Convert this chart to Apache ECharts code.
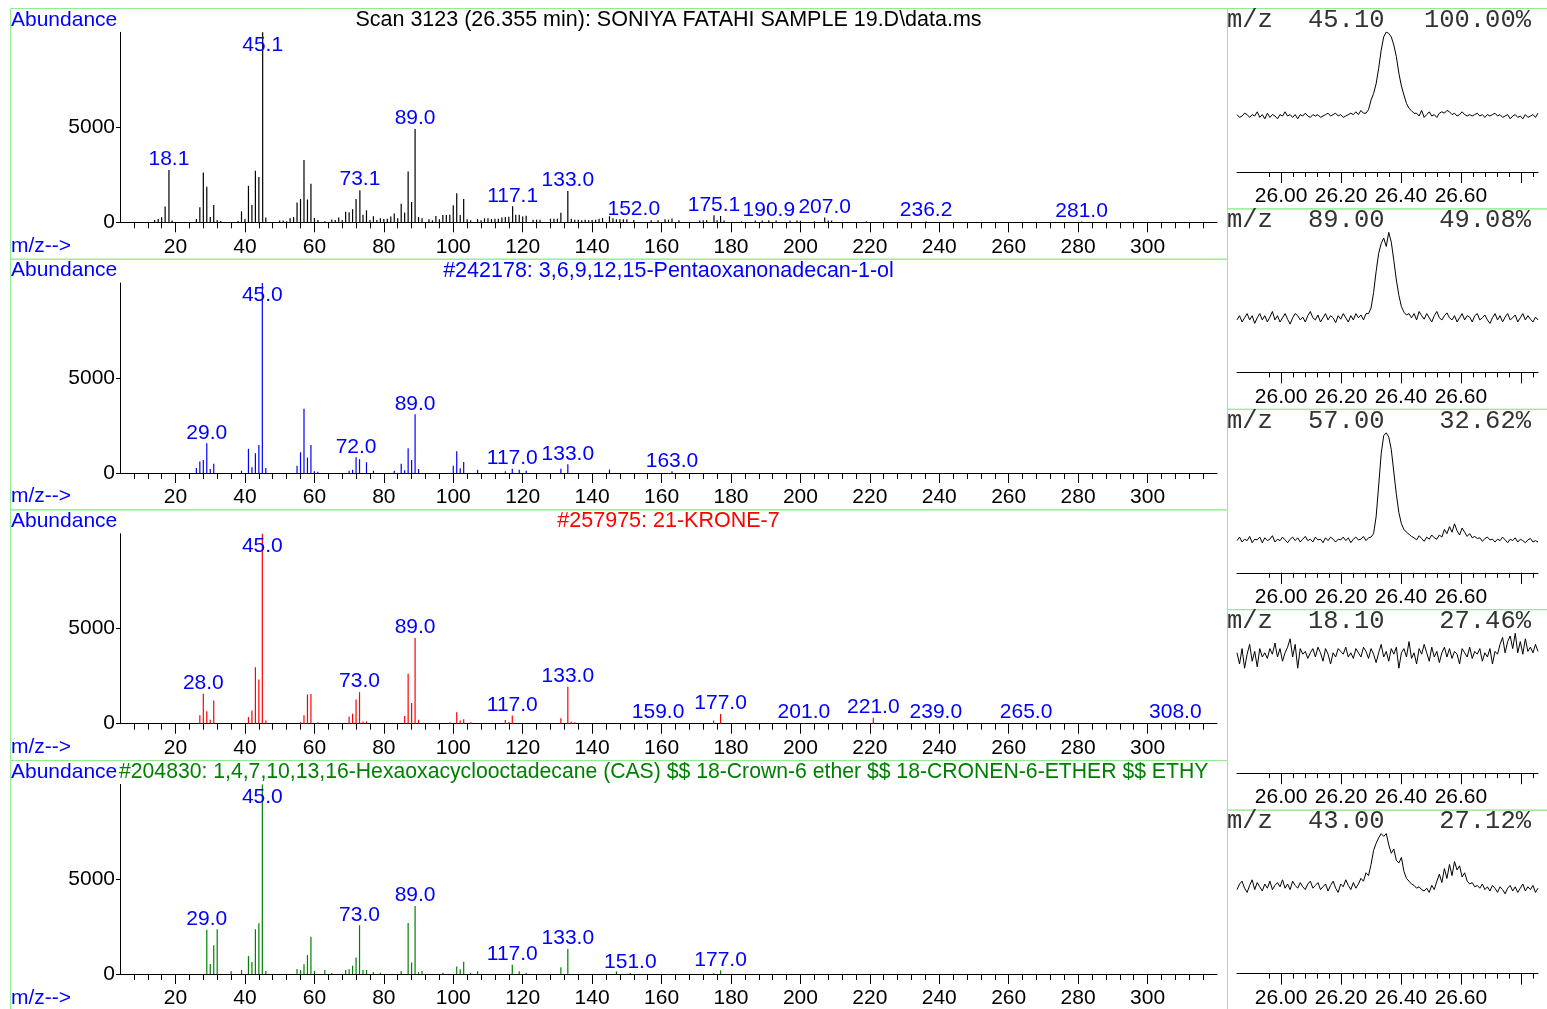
<!DOCTYPE html>
<html><head><meta charset="utf-8">
<script src="https://cdn.jsdelivr.net/npm/echarts@6/dist/echarts.min.js"></script>
<style>html,body{margin:0;padding:0;background:#fff}#c{width:1547px;height:1009px}</style>
</head><body><div id="c"></div>
<script>
// ================= DATA =================
const mzMajorTicks = [20,40,60,80,100,120,140,160,180,200,220,240,260,280,300];
const abundanceTicks = [0,5000];
const timeMajorTicks = [26.00,26.20,26.40,26.60,26.80];
const timeLabelTicks = [26.00,26.20,26.40,26.60];

const sampleTitle = "Scan 3123 (26.355 min): SONIYA FATAHI SAMPLE 19.D\\data.ms";
const lib1Title = "#242178: 3,6,9,12,15-Pentaoxanonadecan-1-ol";
const lib2Title = "#257975: 21-KRONE-7";
const lib3Title = "#204830: 1,4,7,10,13,16-Hexaoxacyclooctadecane (CAS) $$ 18-Crown-6 ether $$ 18-CRONEN-6-ETHER $$ ETHY";

// [m/z, abundance]
const sampleSpectrum = [[14,120],[15,180],[16,260],[17,830],[18.1,2750],[19,90],[26,180],[27,790],[28,2620],[29,1870],[30,280],[31,915],[32,120],[33,70],[38,70],[39,580],[40,180],[41,1920],[42,915],[43,2710],[44,2380],[45.1,10000],[46,250],[50,100],[51,100],[52,50],[53,210],[54,280],[55,1040],[56,1230],[57,3280],[58,1200],[59,2030],[60,230],[61,120],[63,50],[65,150],[66,120],[67,250],[68,120],[69,550],[70,530],[71,690],[72,1230],[73.1,1690],[74,400],[75,630],[76,120],[77,320],[78,120],[79,210],[80,180],[81,190],[82,300],[83,460],[84,210],[85,970],[86,510],[87,2680],[88,1070],[89.0,4910],[90,280],[91,210],[93,160],[94,110],[95,330],[96,160],[97,390],[98,390],[99,400],[100,900],[101,1530],[102,390],[103,1220],[104,160],[105,110],[107,160],[108,110],[109,210],[110,210],[111,170],[112,190],[113,190],[114,250],[115,280],[116,290],[117.1,840],[118,400],[119,400],[120,300],[121,340],[123,140],[124,140],[125,140],[128,190],[129,190],[130,190],[131,500],[133.0,1650],[134,190],[135,140],[136,140],[137,110],[138,140],[139,110],[140,120],[141,140],[142,190],[143,230],[145,320],[146,210],[147,160],[148,160],[149,160],[150,160],[152.0,120],[157,110],[159,110],[161,160],[162,140],[163,200],[165,110],[171,90],[172,110],[173,110],[175.1,370],[176,110],[177,330],[178,90],[183,50],[187,90],[189,100],[190.9,110],[193,90],[197,90],[199,90],[200,80],[204,50],[207.0,250],[208,90],[209,90],[219,40],[236.2,60],[281.0,40]];
const sampleLabels = [18.1,45.1,73.1,89.0,117.1,133.0,152.0,175.1,190.9,207.0,236.2,281.0];

const lib1Spectrum = [[26,260],[27,610],[28,690],[29.0,1560],[30,210],[31,490],[39,120],[41,1270],[42,300],[43,1040],[44,1475],[45.0,10000],[46,260],[55,380],[56,1090],[57,3385],[58,815],[59,1475],[60,90],[61,70],[70,120],[71,170],[72.0,830],[73,730],[75,570],[77,120],[83,120],[85,490],[86,150],[87,1300],[88,690],[89.0,3090],[90,210],[100,380],[101,1150],[102,250],[103,580],[107,170],[115,90],[117.0,230],[119,170],[121,120],[131,230],[133.0,460],[145,180],[163.0,90]];
const lib1Labels = [29.0,45.0,72.0,89.0,117.0,133.0,163.0];

const lib2Spectrum = [[27,440],[28.0,1575],[29,650],[30,210],[31,1225],[41,350],[42,700],[43,2975],[44,2330],[45.0,10000],[46,175],[56,90],[57,440],[58,1540],[59,1560],[61,70],[70,385],[71,525],[72,1280],[73.0,1660],[74,120],[75,120],[86,400],[87,2625],[88,1085],[89.0,4515],[90,210],[99,70],[101,600],[102,175],[103,240],[105,70],[115,190],[116,90],[117.0,430],[131,290],[133.0,1950],[134,120],[135,70],[159.0,40],[175,175],[177.0,510],[201.0,40],[221.0,315],[239.0,40],[265.0,40],[308.0,60]];
const lib2Labels = [28.0,45.0,73.0,89.0,117.0,133.0,159.0,177.0,201.0,221.0,239.0,265.0,308.0];

const lib3Spectrum = [[29.0,2330],[30,525],[31,1520],[32,2360],[36,160],[39,210],[41,945],[42,630],[43,2360],[44,2680],[45.0,10000],[46,160],[55,260],[56,210],[57,510],[58,1000],[59,1960],[60,160],[63,210],[65,50],[69,210],[70,245],[71,440],[72,875],[73.0,2570],[74,210],[75,210],[77,100],[79,70],[85,160],[87,2695],[88,610],[89.0,3590],[90,100],[91,160],[97,70],[101,400],[102,250],[103,650],[105,70],[107,150],[117.0,490],[119,150],[121,60],[131,350],[133.0,1320],[147,140],[151.0,50],[175,40],[177.0,190]];
const lib3Labels = [29.0,45.0,73.0,89.0,117.0,133.0,151.0,177.0];

// extracted ion chromatograms (percent of each trace's own height)
const eicHeaders = [["45.10","100.00%"],["89.00","49.08%"],["57.00","32.62%"],["18.10","27.46%"],["43.00","27.12%"]];
const eicTimeRange = [25.853, 26.857];
const eic45 = [41,39,40,42,41,39,41,40,43,39,41,38,42,39,41,40,38,41,40,43,40,41,39,41,38,41,40,42,40,39,41,40,41,39,40,41,42,40,41,42,40,41,39,40,41,42,41,43,41,44,42,
 42,44.5,51.4,56,63,74,87,96.5,100,99,96.5,90.7,82.4,70.5,61.4,55,49,45.5,43.8,41.9,
 42,40,44,39,41,43,40,41,39,42,43,42,44,43,41,42,40,41,43,41,40,41,40,41,42,40,41,39,41,40,41,42,40,41,39,40,41,38,40,41,39,40,38,41,39,40,41,39,42];
const eic89 = [37.5,40.5,36,39,42,37.5,40.5,35,39,42,37.5,40.5,36,39.5,43.5,37.5,40.5,36,39,42,38,34.5,39,42,40.5,37.5,39.5,36,40.5,43.5,39,37.5,41,36,39,42,37.5,40.5,39,35.5,40.5,38,42,39,36,40.5,37.5,42,39,41,37.5,42,
 42,46,57,72,85,92,96,90,100,93,80,66,55,47,43,41,42,
 39,42,37.5,43.5,40.5,38,42,39,36,40.5,43.5,39,37.5,40.5,42.5,39,37.5,40.5,36,39,42,37.5,40.5,39.5,36,40.5,42,37.5,39,41,37.5,35,39,42,37.5,40.5,36,39.5,42,37.5,39,41,36,39,42,37.5,40.5,38,36,39.5,37.5];
const eic57 = [23,25.5,22,24,23,26,21.5,24,23.5,25.5,21.5,25,23,24,26.5,22,24,23,25.5,23.5,21.5,24,25.5,23,25,22,24,26,23,24,22,25.5,23.5,24,21.5,25,23,25.5,24,22,24,23.5,25.5,23,25,21.5,24,25.5,23.5,24,26,23,25,25.5,
 28,40,62,85,98,100,97,88,72,56,43,35,31,29,27.5,26,
 25,23.5,26.5,24.5,22.5,25.5,24,27,25,24,27,25.5,31,28,33,29,35,30,27,32,29,26,28,25,26,24.5,25,22.5,24.5,25.5,23.5,24,22,24,23,25.5,23.5,21.5,24,23,25,22,24,23,21.5,23.5,24.5,22,23,22];
const eic18 = [86,78,89,75,85,92,80,87,76,89,83,86,82,89,85,93,83,89,80,86,90,96,83,92,75,89,85,87,82,86,89,83,90,86,80,89,85,78,86,83,89,87,85,90,83,86,82,89,86,83,90,87,82,89,85,79,86,92,83,87,80,89,85,90,75,86,89,83,94,82,86,78,89,85,92,86,80,90,83,87,79,86,90,83,89,82,87,85,78,89,86,83,90,82,87,85,89,80,86,83,89,78,87,85,92,97,86,94,98,89,100,86,94,85,96,87,90,86,92,87];
const eic43 = [60,64,66,61,58,63,67,60,65,62,59,64,61,66,60,63,65,62,67,61,64,60,66,63,61,65,62,60,64,66,61,63,65,60,62,64,59,63,66,61,58,64,62,67,63,60,65,61,64,68,
 66,72,70,78,88,93,97,100,98,100,92,86,89,81,79,83,73,68,66,64,63,61,62,
 60,59,61,58,63,60,66,71,65,75,68,78,70,80,74,77,69,72,66,64,65,62,63,61,64,60,62,59,63,61,58,62,60,57,61,63,59,62,58,61,64,59,62,60,63,58,61];

// ================= CHART =================
const FONT = '"Liberation Sans", Arial, sans-serif';
const MONO = '"Liberation Mono", "DejaVu Sans Mono", monospace';
const PH = 250.7;    // spectrum panel pitch
const CH = 200.4;    // chromatogram panel pitch
const GREEN_BOX = '#90ee90';

const mzMinorTicks = [];
for (let v = 8; v <= 316; v += 4) mzMinorTicks.push(v);
const timeMinorTicks = [];
for (let k = 0; k <= 22; k++) timeMinorTicks.push(+(25.96 + 0.04 * k).toFixed(2));

const msPanels = [
  {spec: sampleSpectrum, labels: sampleLabels, color: '#000000', title: sampleTitle, titleColor: '#000000'},
  {spec: lib1Spectrum, labels: lib1Labels, color: '#0000ff', title: lib1Title, titleColor: '#0000ff'},
  {spec: lib2Spectrum, labels: lib2Labels, color: '#ff0000', title: lib2Title, titleColor: '#ff0000'},
  {spec: lib3Spectrum, labels: lib3Labels, color: '#008000', title: lib3Title, titleColor: '#008000'}
];
const eics = [eic45, eic89, eic57, eic18, eic43];

const grid = [], xAxis = [], yAxis = [], series = [], graphic = [];
const txt = (x, y, text, fill, font, align, extra) => ({type: 'text', silent: true, x, y,
  style: Object.assign({text, fill, font, align, textAlign: align, verticalAlign: 'middle', textVerticalAlign: 'middle'}, extra || {})});

msPanels.forEach((p, k) => {
  grid.push({left: 120, top: 32.3 + PH * k, width: 1097, height: 190});
  xAxis.push({type: 'value', gridIndex: k, position: 'bottom', min: 4, max: 320,
    axisLine: {show: true, onZero: false, lineStyle: {color: '#000', width: 1}},
    axisTick: {show: true, customValues: mzMinorTicks, length: 6, lineStyle: {color: '#000'}},
    axisLabel: {show: false}, splitLine: {show: false}});
  xAxis.push({type: 'value', gridIndex: k, position: 'bottom', min: 4, max: 320,
    axisLine: {show: false, onZero: false},
    axisTick: {show: true, customValues: mzMajorTicks, length: 10, lineStyle: {color: '#000'}},
    axisLabel: {show: true, customValues: mzMajorTicks, formatter: v => String(v), color: '#000', fontSize: 21, fontFamily: FONT, margin: 14},
    splitLine: {show: false}});
  yAxis.push({type: 'value', gridIndex: k, min: 0, max: 10000,
    axisLine: {show: true, lineStyle: {color: '#000', width: 1}},
    axisTick: {show: true, customValues: abundanceTicks, length: 4, lineStyle: {color: '#000'}},
    axisLabel: {show: true, customValues: abundanceTicks, formatter: v => String(v), color: '#000', fontSize: 21, fontFamily: FONT, margin: 5},
    splitLine: {show: false}});
  const maxAb = Math.max(...p.spec.map(d => d[1]));
  const data = p.spec.map(([mz, ab]) => {
    const isLab = p.labels.some(l => Math.abs(l - mz) < 1e-6);
    if (!isLab) return {value: [mz, ab]};
    const base = ab === maxAb;
    return {value: [mz, ab], label: {show: true, position: base ? 'insideTop' : 'top', distance: base ? 2 : 0,
      formatter: mz.toFixed(1), color: '#0000ff', fontSize: 21, fontFamily: FONT}};
  });
  series.push({type: 'bar', xAxisIndex: 2 * k, yAxisIndex: k, barWidth: 1.2, data,
    itemStyle: {color: p.color}, label: {show: false}, silent: true, animation: false});

  graphic.push({type: 'rect', silent: true, shape: {x: 10.5, y: 8.5 + PH * k, width: 1217, height: PH},
    style: {fill: 'none', stroke: GREEN_BOX, lineWidth: 1}});
  graphic.push(txt(11, 20 + PH * k, 'Abundance', '#0000ff', '21px ' + FONT, 'left'));
  graphic.push(txt(11, 246 + PH * k, 'm/z-->', '#0000ff', '21px ' + FONT, 'left'));
  const centered = k < 3;
  graphic.push(txt(centered ? 668.5 : 119, 20 + PH * k, p.title, p.titleColor, (centered ? '21.5px ' : '21.2px ') + FONT,
    centered ? 'center' : 'left', {width: 1114, overflow: 'truncate', ellipsis: ''}));
});

eics.forEach((vals, j) => {
  const gi = 4 + j;
  grid.push({left: 1237, top: 32 + CH * j, width: 301, height: 140});
  xAxis.push({type: 'value', gridIndex: gi, position: 'bottom', min: eicTimeRange[0], max: eicTimeRange[1],
    axisLine: {show: true, onZero: false, lineStyle: {color: '#000', width: 1}},
    axisTick: {show: true, customValues: timeMinorTicks, length: 5, lineStyle: {color: '#000'}},
    axisLabel: {show: false}, splitLine: {show: false}});
  xAxis.push({type: 'value', gridIndex: gi, position: 'bottom', min: eicTimeRange[0], max: eicTimeRange[1],
    axisLine: {show: false, onZero: false},
    axisTick: {show: true, customValues: timeMajorTicks, length: 11, lineStyle: {color: '#000'}},
    axisLabel: {show: true, customValues: timeLabelTicks, formatter: v => v.toFixed(2), color: '#000', fontSize: 21, fontFamily: FONT, margin: 14},
    splitLine: {show: false}});
  yAxis.push({type: 'value', gridIndex: gi, min: 0, max: 100, show: false});
  const n = vals.length;
  const step = (eicTimeRange[1] - eicTimeRange[0]) / (n - 1);
  const data = vals.map((v, i) => [eicTimeRange[0] + i * step, v]);
  series.push({type: 'line', xAxisIndex: 8 + 2 * j, yAxisIndex: gi, data, showSymbol: false, symbol: 'none',
    lineStyle: {color: '#000', width: 1}, silent: true, animation: false});

  graphic.push({type: 'rect', silent: true, shape: {x: 1227.5, y: 8.5 + CH * j, width: 330, height: CH},
    style: {fill: 'none', stroke: GREEN_BOX, lineWidth: 1}});
  graphic.push(txt(1227, 20 + CH * j, 'm/z', '#333', '25.5px ' + MONO, 'left'));
  graphic.push(txt(1308, 20 + CH * j, eicHeaders[j][0], '#333', '25.5px ' + MONO, 'left'));
  graphic.push(txt(1531, 20 + CH * j, eicHeaders[j][1], '#333', '25.5px ' + MONO, 'right'));
});

const chart = echarts.init(document.getElementById('c'));
chart.setOption({
  animation: false,
  backgroundColor: '#fff',
  textStyle: {fontFamily: FONT},
  grid, xAxis, yAxis, series, graphic
});
</script>
</body></html>
